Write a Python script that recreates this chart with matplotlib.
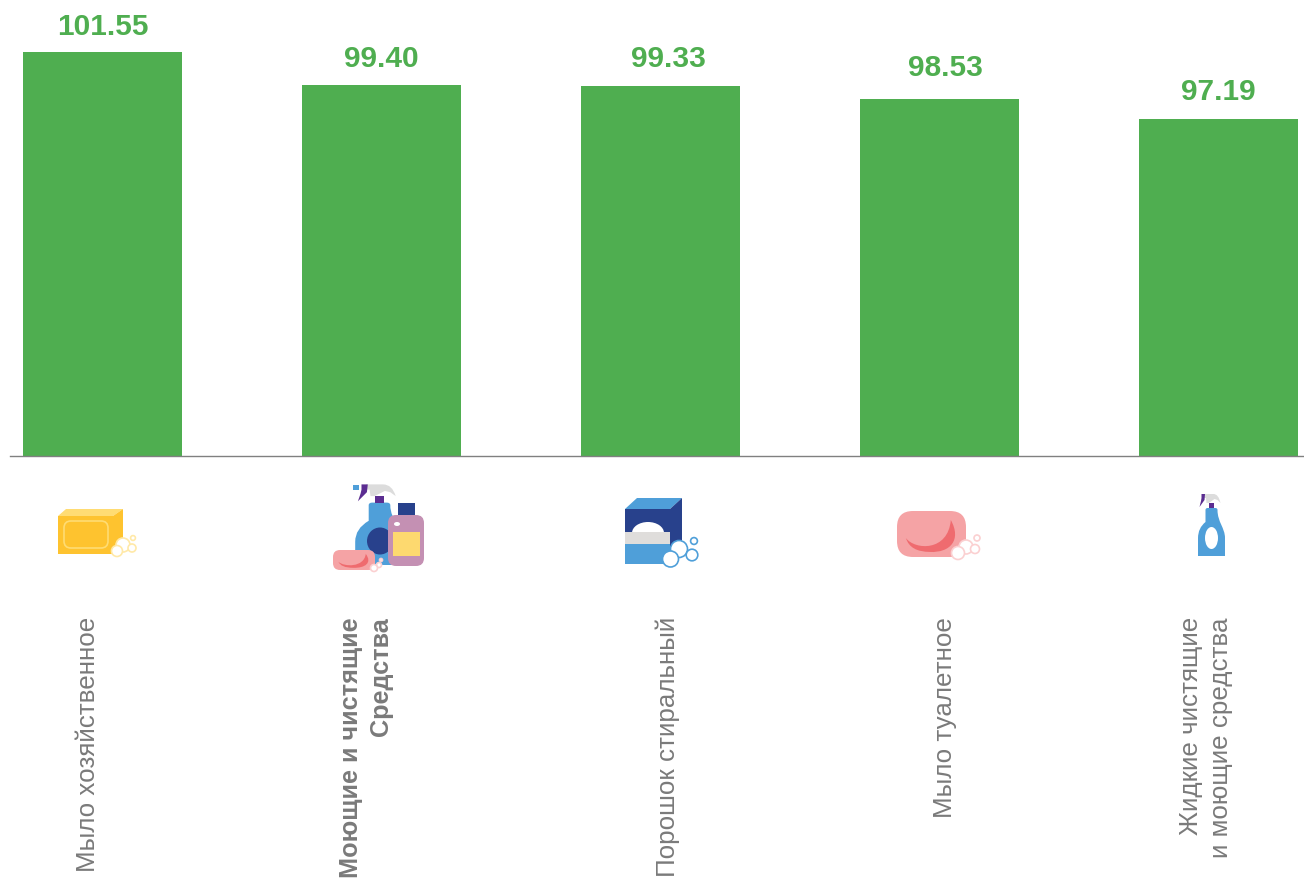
#!/usr/bin/env python3
"""Bar chart of price indices for soap and detergents, with small drawn icons."""
import matplotlib
matplotlib.use("Agg")
import matplotlib.pyplot as plt
from matplotlib.patches import Circle, Ellipse, FancyBboxPatch, PathPatch, Polygon, Rectangle
from matplotlib.path import Path

plt.rcParams["font.family"] = ["Liberation Sans", "DejaVu Sans"]

categories = [
    "Мыло хозяйственное",
    "Моющие и чистящие\nСредства",
    "Порошок стиральный",
    "Мыло туалетное",
    "Жидкие чистящие\nи моющие средства",
]
values = [101.55, 99.40, 99.33, 98.53, 97.19]
bold_category = [False, True, False, False, False]

GREEN = "#4fae50"
GREY = "#7a7a7a"
BLUE = "#4f9fd9"
NAVY = "#28418c"
PURPLE = "#5b2d91"
PINK = "#f5a3a5"
RED = "#ef6b6f"
W, H = 1304, 881


def bubbles(ax, pts, edge, zorder=5):
    for x, y, r in pts:
        ax.add_patch(Circle((x, y), r, fc="white", ec=edge, lw=1.2, zorder=zorder))


def yellow_soap(ax):
    ax.add_patch(Polygon([(58, 516), (66, 509), (123, 509), (113, 516)], fc="#ffdc73", lw=0))
    ax.add_patch(Rectangle((58, 516), 55, 38, fc="#fec32f", lw=0))
    ax.add_patch(Polygon([(113, 516), (123, 509), (123, 545), (113, 554)], fc="#fec32f", lw=0))
    ax.add_patch(FancyBboxPatch((68, 525), 36, 19, boxstyle="round,pad=4,rounding_size=7",
                                fc="#fec32f", ec="#ffdc73", lw=1.2))
    bubbles(ax, [(123, 545, 7), (132, 548, 4), (133, 538, 2.4), (117, 551, 5.5)], "#ffe9a8")


def pink_soap(ax, x0, y0, w, h, bub, round_size):
    ax.add_patch(FancyBboxPatch((x0 + round_size, y0 + round_size), w - 2 * round_size,
                                h - 2 * round_size,
                                boxstyle=f"round,pad={round_size},rounding_size={round_size}",
                                fc=PINK, lw=0, zorder=4))
    # darker crescent inside the bar
    fx = lambda a: x0 + a * w
    fy = lambda b: y0 + b * h
    pts = [(0.13, 0.59), (0.26, 0.85), (0.74, 0.89), (0.78, 0.196), (0.94, 0.63), (0.77, 0.91),
           (0.48, 0.89), (0.19, 0.89), (0.13, 0.59), (0.13, 0.59)]
    verts = [(fx(a), fy(b)) for a, b in pts]
    codes = [Path.MOVETO, Path.CURVE4, Path.CURVE4, Path.CURVE4, Path.CURVE4, Path.CURVE4,
             Path.CURVE4, Path.CURVE3, Path.CURVE3, Path.CLOSEPOLY]
    ax.add_patch(PathPatch(Path(verts, codes), fc=RED, lw=0, zorder=4))
    bubbles(ax, bub, "#fbd0d1")


def spray_bottle(ax, cx, bottom, sx, sy, zorder=2):
    xs = lambda a: cx + a * sx
    ys = lambda b: bottom - b * sy
    verts = [(xs(-6), ys(46)), (xs(-6), ys(48)), (xs(-4), ys(48)), (xs(4), ys(48)), (xs(6), ys(48)),
             (xs(6), ys(46)), (xs(6), ys(34)), (xs(13.5), ys(28)), (xs(13.5), ys(18)),
             (xs(13.5), ys(0)), (xs(-13.5), ys(0)), (xs(-13.5), ys(18)), (xs(-13.5), ys(28)),
             (xs(-6), ys(34)), (xs(-6), ys(46))]
    codes = [Path.MOVETO, Path.CURVE3, Path.CURVE3, Path.LINETO, Path.CURVE3, Path.CURVE3,
             Path.CURVE4, Path.CURVE4, Path.CURVE4, Path.LINETO, Path.LINETO, Path.LINETO,
             Path.CURVE3, Path.CURVE3, Path.CLOSEPOLY]
    ax.add_patch(PathPatch(Path(verts, codes), fc=BLUE, lw=0, zorder=zorder))
    ax.add_patch(Rectangle((xs(-2.7), ys(53)), 5.4 * sx, 5 * sy, fc=PURPLE, lw=0, zorder=zorder))
    # spray head and trigger
    head = [(xs(-7.5), ys(62)), (xs(2), ys(62)), (xs(7), ys(62)), (xs(9), ys(53)),
            (xs(6), ys(56)), (xs(3), ys(57)), (xs(-2.7), ys(53)), (xs(-5), ys(53)),
            (xs(-5.5), ys(58)), (xs(-7.5), ys(58)), (xs(-7.5), ys(62))]
    head_codes = [Path.MOVETO, Path.LINETO, Path.CURVE3, Path.CURVE3, Path.LINETO, Path.LINETO,
                  Path.LINETO, Path.LINETO, Path.LINETO, Path.LINETO, Path.CLOSEPOLY]
    ax.add_patch(PathPatch(Path(head, head_codes), fc="#dcdcdc", lw=0, zorder=zorder))
    ax.add_patch(Polygon([(xs(-10), ys(62)), (xs(-6.5), ys(62)), (xs(-7), ys(56)), (xs(-12), ys(49)),
                          (xs(-10.5), ys(55)), (xs(-10), ys(58))], fc=PURPLE, lw=0, zorder=zorder))


def combo_icon(ax):
    spray_bottle(ax, 379.5, 565, 1.8, 1.3)
    ax.add_patch(Rectangle((353, 485), 6, 4.5, fc=BLUE, lw=0, zorder=2))
    ax.add_patch(Ellipse((380, 541), 26, 27, fc=NAVY, lw=0, zorder=2))
    ax.add_patch(Rectangle((398, 503), 17, 13, fc=NAVY, lw=0, zorder=3))
    ax.add_patch(FancyBboxPatch((396, 523), 20, 35, boxstyle="round,pad=8,rounding_size=8",
                                fc="#c490b3", lw=0, zorder=3))
    ax.add_patch(Rectangle((393, 532), 27, 24, fc="#fdd96f", lw=0, zorder=3))
    ax.add_patch(Ellipse((397, 524), 6, 4, fc="white", lw=0, zorder=3))
    pink_soap(ax, 333, 550, 42, 20, [(379, 565, 2.5), (374, 568, 3.5), (381, 560, 1.5)], 7)


def powder_box(ax):
    ax.add_patch(Polygon([(625, 509), (637, 498), (682, 498), (670, 509)], fc=BLUE, lw=0))
    ax.add_patch(Rectangle((625, 509), 45, 24, fc=NAVY, lw=0))
    ax.add_patch(Polygon([(670, 509), (682, 498), (682, 548), (670, 558)], fc=NAVY, lw=0))
    ax.add_patch(Ellipse((648, 533), 32, 22, fc="white", lw=0))
    ax.add_patch(Rectangle((625, 532), 45, 12, fc="#dfdddb", lw=0))
    ax.add_patch(Rectangle((625, 544), 45, 20, fc=BLUE, lw=0))
    bubbles(ax, [(679, 549, 8.5), (692, 555, 5.8), (694, 541, 3.4), (670.5, 559, 8)], BLUE)


def liquid_bottle(ax):
    spray_bottle(ax, 1211.5, 556, 1, 1)
    ax.add_patch(Ellipse((1211.5, 538), 13, 22, fc="white", lw=0, zorder=3))


fig = plt.figure(figsize=(W / 100, H / 100), dpi=100)
fig.patch.set_facecolor("white")

# bars: axis spans 10..1304 px, baseline at 456 px
ax = fig.add_axes([10 / W, 1 - 456 / H, (W - 10) / W, 456 / H])
pos = list(range(len(values)))
ax.bar(pos, values, width=0.5704, color=GREEN)
ax.set_xlim(-0.3336, 4.3085)
ax.set_ylim(75.27, 104.94)
ax.set_yticks([])
ax.set_xticks([])
for s in ["top", "left", "right"]:
    ax.spines[s].set_visible(False)
ax.spines["bottom"].set_color("#808080")
ax.spines["bottom"].set_linewidth(1.0)
ax.spines["bottom"].set_zorder(5)

# value labels are not quite centred in the original, nudges are in pixels
nudge_x = [0, 0, 8, 6, 0]
nudge_y = [0, 1, 2, 5, 2]
for x, v, dx, dy in zip(pos, values, nudge_x, nudge_y):
    ax.annotate(f"{v:.2f}", (x, v), xytext=(dx * 0.72, 8 + dy * 0.72), textcoords="offset points",
                ha="center", va="bottom", fontsize=21.5, fontweight="bold", color=GREEN)

# overlay in pixel coordinates for the icons and rotated labels
ov = fig.add_axes([0, 0, 1, 1])
ov.set_xlim(0, W)
ov.set_ylim(H, 0)
ov.axis("off")
ov.patch.set_alpha(0)

yellow_soap(ov)
combo_icon(ov)
powder_box(ov)
pink_soap(ov, 897, 511, 69, 46, [(966, 547, 7), (975, 549, 4.5), (977, 538, 3), (958, 553, 6.5)], 16)
liquid_bottle(ov)

label_x = [88, 366, 668, 945, 1206]
for x, name, is_bold in zip(label_x, categories, bold_category):
    ov.text(x, 617, name, rotation=90, ha="center", va="top", multialignment="right",
            fontsize=18.2 if is_bold else 18.7, color=GREY,
            fontweight="bold" if is_bold else "normal", linespacing=1.29)

fig.savefig("out.png", dpi=100)
